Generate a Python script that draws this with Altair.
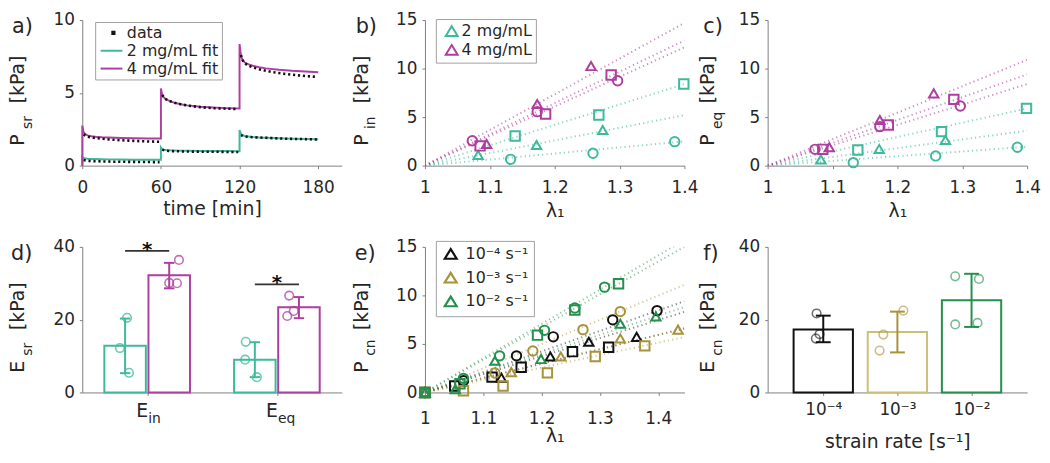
import json
import altair as alt
import pandas as pd

FONT = "DejaVu Sans"
TXT = "#262626"
AXC = "#808080"
TEAL = "#3fb99c"
MAG = "#ad3fa0"
BLK = "#111111"
OLV = "#a8923a"
OLV_LIGHT = "#cdbf78"
GRN = "#23904c"
W, H = 262, 147

# ---------------- panel a: stress relaxation ----------------
a_series = ["data", "2 mg/mL fit", "4 mg/mL fit"]
a_fit_time = [0, 0, 1, 2, 4, 7, 10, 15, 20, 30, 40, 50, 60,
              60, 61, 62, 64, 67, 70, 75, 80, 90, 100, 110, 120,
              120, 121, 122, 124, 127, 130, 135, 140, 150, 160, 170, 180]
a_fit_2 = [0, 0.62, 0.52, 0.50, 0.48, 0.46, 0.45, 0.44, 0.43, 0.42, 0.41, 0.40, 0.40,
           1.25, 1.12, 1.09, 1.07, 1.05, 1.04, 1.03, 1.02, 1.01, 1.00, 1.00, 0.99,
           2.45, 2.20, 2.10, 2.04, 2.00, 1.97, 1.94, 1.92, 1.88, 1.85, 1.83, 1.81]
a_fit_4 = [0, 2.75, 2.30, 2.18, 2.08, 2.02, 1.98, 1.95, 1.93, 1.90, 1.88, 1.87, 1.86,
           5.30, 4.85, 4.70, 4.55, 4.43, 4.33, 4.22, 4.14, 4.05, 3.99, 3.95, 3.92,
           8.35, 7.60, 7.30, 7.08, 6.95, 6.86, 6.76, 6.68, 6.58, 6.51, 6.46, 6.42]
a_data_time = [1, 3, 6, 10, 15, 20, 25, 30, 35, 40, 45, 50, 55, 59,
               61, 63, 66, 70, 75, 80, 85, 90, 95, 100, 105, 110, 115, 119,
               121, 123, 126, 130, 135, 140, 145, 150, 155, 160, 165, 170, 175, 179]
a_data_2 = [0.38, 0.34, 0.32, 0.30, 0.29, 0.28, 0.27, 0.27, 0.26, 0.26, 0.25, 0.25, 0.24, 0.24,
            1.10, 1.04, 1.01, 0.99, 0.98, 0.97, 0.96, 0.96, 0.95, 0.95, 0.95, 0.94, 0.94, 0.94,
            2.10, 2.02, 1.98, 1.95, 1.93, 1.91, 1.89, 1.87, 1.85, 1.84, 1.83, 1.82, 1.81, 1.80]
a_data_4 = [2.15, 2.02, 1.95, 1.90, 1.85, 1.80, 1.77, 1.74, 1.72, 1.70, 1.68, 1.66, 1.65, 1.64,
            4.85, 4.60, 4.45, 4.33, 4.22, 4.13, 4.07, 4.02, 3.98, 3.95, 3.93, 3.91, 3.90, 3.89,
            7.60, 7.10, 6.90, 6.75, 6.62, 6.52, 6.43, 6.36, 6.30, 6.25, 6.20, 6.16, 6.12, 6.10]

# ---------------- panels b, c: peak / equilibrium stress ----------------
conc_names = ["2 mg/mL", "4 mg/mL"]
sample_names = ["A", "B", "C"]
sample_shapes = ["triangle-up", "square", "circle"]
bc_conc = [0] * 9 + [1] * 9
bc_sample = [0, 0, 0, 1, 1, 1, 2, 2, 2] * 2
bc_lambda = [1.082, 1.172, 1.274, 1.139, 1.268, 1.399, 1.132, 1.259, 1.385,
             1.095, 1.173, 1.256, 1.085, 1.186, 1.287, 1.073, 1.173, 1.297]
b_P = [1.10, 2.13, 3.67, 3.06, 5.22, 8.41, 0.65, 1.27, 2.47,
       2.23, 6.35, 10.26, 2.03, 5.32, 9.34, 2.57, 5.56, 8.75]
c_P = [0.65, 1.72, 2.64, 1.61, 3.50, 5.90, 0.31, 1.00, 1.89,
       1.89, 4.70, 7.45, 1.68, 4.19, 6.83, 1.68, 4.02, 6.14]
fit_lambda = [1.0, 1.4]
b_fit_end = [[5.2, 8.4, 2.5], [14.7, 12.9, 12.2]]
c_fit_end = [[3.6, 5.9, 1.95], [10.9, 9.4, 8.4]]

# ---------------- panel d: moduli ----------------
d_sub = ["in", "eq"]
d_mean = [[12.8, 9.0], [32.2, 23.4]]
d_lo = [[5.3, 4.2], [28.6, 20.4]]
d_hi = [[20.3, 13.8], [35.6, 26.2]]
d_pts = [[[20.5, 12.2, 5.4], [13.9, 9.0, 4.2]], [[36.4, 30.1, 30.0], [26.6, 21.0, 22.4]]]
d_jit = [[[0.015, -0.04, 0.03], [-0.07, -0.075, 0.015]], [[0.075, 0.0, 0.06], [-0.075, -0.09, -0.04]]]
d_sig = [38.9, 29.7]

# ---------------- panel e: constant strain rate ----------------
e_rates = ["10⁻⁴ s⁻¹", "10⁻³ s⁻¹", "10⁻² s⁻¹"]
e_lambda = [
    [[1.0, 1.131, 1.215, 1.281, 1.363], [1.0, 1.051, 1.115, 1.165, 1.253, 1.315], [1.0, 1.066, 1.157, 1.220, 1.322, 1.398]],
    [[1.0, 1.148, 1.233, 1.335, 1.434], [1.0, 1.066, 1.134, 1.210, 1.292, 1.377], [1.0, 1.120, 1.185, 1.271, 1.335]],
    [[1.0, 1.052, 1.120, 1.199, 1.335, 1.396], [1.0, 1.060, 1.193, 1.257, 1.332], [1.0, 1.066, 1.128, 1.205, 1.257, 1.308]],
]
e_P = [
    [[0, 1.52, 3.70, 5.22, 5.73], [0, 0.67, 1.58, 2.60, 4.20, 4.65], [0, 1.20, 3.77, 5.73, 7.48, 8.43]],
    [[0, 2.09, 3.70, 5.56, 6.47], [0, 0.17, 0.67, 2.02, 3.70, 4.80], [0, 2.00, 4.28, 6.47, 8.33]],
    [[0, 0.34, 3.27, 3.44, 7.08, 7.82], [0, 0.90, 5.90, 8.50, 11.20], [0, 1.45, 3.77, 6.40, 8.70, 10.85]],
]
e_fit_lambda = [1.0, 1.445]
e_fit_end = [[8.3, 6.6, 9.4], [6.6, 5.7, 11.1], [8.8, 15.0, 15.7]]

# ---------------- panel f: modulus vs strain rate ----------------
f_rates = ["10⁻⁴", "10⁻³", "10⁻²"]
f_mean = [17.3, 16.6, 25.3]
f_lo = [13.8, 11.0, 18.0]
f_hi = [21.1, 22.2, 32.6]
f_pts = [[21.7, 16.0, 14.8], [22.5, 15.9, 11.5], [31.9, 31.2, 18.7, 19.1]]
f_jit = [[-0.09, -0.05, -0.10], [0.08, -0.19, -0.24], [-0.22, 0.10, -0.22, 0.08]]


# ---------------- helpers ----------------
def one(text):
    return alt.Chart(alt.Data(values=[{"t": text}]))


def panel_label(text, dx):
    return one(text).mark_text(align="left", baseline="alphabetic", fontSize=21, font=FONT, color=TXT).encode(
        x=alt.value(dx), y=alt.value(13), text="t:N")


def ytitle(main, sub, bx):
    m = one(main).mark_text(angle=270, align="left", baseline="alphabetic", fontSize=19, font=FONT, color=TXT).encode(
        x=alt.value(bx), y=alt.value(127), text="t:N")
    s = one(sub).mark_text(angle=270, align="left", baseline="alphabetic", fontSize=14, font=FONT, color=TXT).encode(
        x=alt.value(bx + 8), y=alt.value(110), text="t:N")
    r = one("[kPa]").mark_text(angle=270, align="left", baseline="alphabetic", fontSize=19, font=FONT, color=TXT).encode(
        x=alt.value(bx), y=alt.value(84), text="t:N")
    return [m, s, r]


def lam_axis(title_y, pad):
    return alt.Axis(values=[1, 1.1, 1.2, 1.3, 1.4], format="~g", title="λ₁", titleY=title_y,
                    titleBaseline="alphabetic", labelPadding=pad)


def y_axis(vals):
    return alt.Axis(values=vals, title=None, labelPadding=5)


def legend_layer(domain, colors, symbols, **kw):
    leg = alt.Legend(title=None, orient="none", labelFont=FONT, labelFontSize=16, labelColor=TXT,
                     strokeColor="#a0a0a0", fillColor="white", **kw)
    return alt.Chart(pd.DataFrame({"k": domain})).transform_filter("false").mark_point(
        filled=False, opacity=1).encode(
        color=alt.Color("k:N", scale=alt.Scale(domain=domain, range=colors), legend=leg),
        shape=alt.Shape("k:N", scale=alt.Scale(domain=domain, range=symbols), legend=leg))


# ---------------- panel a ----------------
n = len(a_fit_time)
fit_df = pd.DataFrame({"t": a_fit_time * 2, "P": a_fit_2 + a_fit_4,
                       "s": [a_series[1]] * n + [a_series[2]] * n, "o": list(range(n)) * 2})
dat_df = pd.DataFrame({"t": a_data_time * 2, "P": a_data_2 + a_data_4,
                       "k": [f"2-{t // 60}" for t in a_data_time] + [f"4-{t // 60}" for t in a_data_time]})
xa = alt.X("t:Q", scale=alt.Scale(domain=[0, 198], nice=False),
           axis=alt.Axis(values=[0, 60, 120, 180], title="time [min]", titleY=49,
                         titleBaseline="alphabetic", labelPadding=11))
ya = alt.Y("P:Q", scale=alt.Scale(domain=[0, 10], nice=False), axis=y_axis([0, 5, 10]))
fit2 = alt.Chart(fit_df).transform_filter(alt.datum.s == a_series[1]).mark_line(
    color=TEAL, strokeWidth=2).encode(x=xa, y=ya, order="o:Q")
fit4 = alt.Chart(fit_df).transform_filter(alt.datum.s == a_series[2]).mark_line(
    color=MAG, strokeWidth=2).encode(x=xa, y=ya, order="o:Q")
dots = alt.Chart(dat_df).mark_line(color=BLK, strokeWidth=2.6, strokeDash=[2.2, 2.8]).encode(
    x=xa, y=ya, detail="k:N")
a_legend = legend_layer(a_series, [BLK, TEAL, MAG],
                        ["M1.15,-0.2H1.55V0.2H1.15Z", "M-1,0H3", "M-1,0H3"],
                        legendX=13, legendY=2, padding=3, rowPadding=2, symbolSize=121,
                        symbolStrokeWidth=2, labelOffset=13)
pa = alt.layer(fit2, fit4, dots, a_legend, panel_label("a)", -71),
               *ytitle("P", "sr", -59)).properties(width=W, height=H)


# ---------------- panels b, c ----------------
def scatter_panel(P, fit_end, label, sub, bx, legend):
    df = pd.DataFrame({"lam": bc_lambda, "P": P,
                       "conc": [conc_names[i] for i in bc_conc],
                       "sample": [sample_names[i] for i in bc_sample]})
    rows = []
    for ci, cn in enumerate(conc_names):
        for si, sn in enumerate(sample_names):
            for lam, pv in zip(fit_lambda, [0.0, fit_end[ci][si]]):
                rows.append({"lam": lam, "P": pv, "conc": cn, "key": f"{cn}-{sn}"})
    fdf = pd.DataFrame(rows)
    x = alt.X("lam:Q", scale=alt.Scale(domain=[1, 1.4], nice=False, zero=False), axis=lam_axis(51, 11))
    y = alt.Y("P:Q", scale=alt.Scale(domain=[0, 15], nice=False), axis=y_axis([0, 5, 10, 15]))
    lines = alt.Chart(fdf).mark_line(strokeWidth=2, strokeDash=[1.2, 3.2], opacity=0.6, clip=True).encode(
        x=x, y=y, detail="key:N",
        stroke=alt.Stroke("conc:N", scale=alt.Scale(domain=conc_names, range=[TEAL, MAG]), legend=None))
    pts = alt.Chart(df).mark_point(filled=False, size=90, strokeWidth=2, opacity=1).encode(
        x=x, y=y,
        color=alt.Color("conc:N", scale=alt.Scale(domain=conc_names, range=[TEAL, MAG]), legend=None),
        shape=alt.Shape("sample:N", scale=alt.Scale(domain=sample_names, range=sample_shapes), legend=None))
    layers = [lines, pts]
    if legend:
        layers.append(legend_layer(conc_names, [TEAL, MAG], ["M0.8,-0.95L2,1L-0.4,1Z"] * 2,
                                   legendX=11, legendY=-1, padding=4, rowPadding=1, symbolSize=100,
                                   symbolStrokeWidth=2, labelOffset=6))
    return alt.layer(*layers, panel_label(label, -70 if bx < -56 else -65),
                     *ytitle("P", sub, bx)).resolve_scale(
        color="independent", shape="independent").properties(width=W, height=H)


pb = scatter_panel(b_P, b_fit_end, "b)", "in", -58, True)
pc = scatter_panel(c_P, c_fit_end, "c)", "eq", -54, False)

# ---------------- panel d ----------------
GROUP_OFF, BAR_HALF, CAP_D = 0.17, 0.16, 0.04
brows, prows, srows = [], [], []
for ci, cn in enumerate(conc_names):
    for mi in range(len(d_sub)):
        pos = mi + (GROUP_OFF if ci else -GROUP_OFF)
        brows.append({"conc": cn, "pos": pos, "x1": pos - BAR_HALF, "x2": pos + BAR_HALF,
                      "c1": pos - CAP_D, "c2": pos + CAP_D, "mean": d_mean[ci][mi], "zero": 0,
                      "lo": d_lo[ci][mi], "hi": d_hi[ci][mi]})
        for v, j in zip(d_pts[ci][mi], d_jit[ci][mi]):
            prows.append({"conc": cn, "px": pos + j, "v": v})
for mi, sv in enumerate(d_sig):
    srows.append({"i": mi, "a": mi - GROUP_OFF, "b": mi + GROUP_OFF, "y": sv, "star": "*"})
dbar = pd.DataFrame(brows)
dpts = pd.DataFrame(prows)
dsig = pd.DataFrame(srows)
dlab = pd.DataFrame({"i": list(range(len(d_sub))), "main": ["E"] * len(d_sub), "sub": d_sub})
dsc = alt.Scale(domain=conc_names, range=[TEAL, MAG])
xd = alt.X("x1:Q", scale=alt.Scale(domain=[-0.5, 1.5], nice=False, zero=False),
           axis=alt.Axis(values=[0, 1], labels=False, title=None))
yd = alt.Y("mean:Q", scale=alt.Scale(domain=[0, 40], nice=False), axis=y_axis([0, 20, 40]))
d_bars = alt.Chart(dbar).mark_rect(fill="white", strokeWidth=2).encode(
    x=xd, x2="x2:Q", y=yd, y2="zero:Q", stroke=alt.Stroke("conc:N", scale=dsc, legend=None))
d_err = alt.Chart(dbar).mark_rule(strokeWidth=2).encode(
    x="pos:Q", y="lo:Q", y2="hi:Q", color=alt.Color("conc:N", scale=dsc, legend=None))
d_cap1 = alt.Chart(dbar).mark_rule(strokeWidth=2).encode(
    x="c1:Q", x2="c2:Q", y="lo:Q", color=alt.Color("conc:N", scale=dsc, legend=None))
d_cap2 = alt.Chart(dbar).mark_rule(strokeWidth=2).encode(
    x="c1:Q", x2="c2:Q", y="hi:Q", color=alt.Color("conc:N", scale=dsc, legend=None))
d_pt = alt.Chart(dpts).mark_point(shape="circle", filled=False, size=75, strokeWidth=1.6, opacity=0.75).encode(
    x="px:Q", y="v:Q", color=alt.Color("conc:N", scale=dsc, legend=None))
d_sigl = alt.Chart(dsig).mark_rule(strokeWidth=1.6, color="#333333").encode(x="a:Q", x2="b:Q", y="y:Q")
d_star = alt.Chart(dsig).mark_text(fontSize=20, font=FONT, fontWeight="bold", color="#111111",
                                   baseline="alphabetic", dy=5).encode(x="i:Q", y="y:Q", text="star:N")
d_lab1 = alt.Chart(dlab).mark_text(fontSize=19, font=FONT, color=TXT, align="right", baseline="alphabetic",
                                   dx=1).encode(x="i:Q", y=alt.value(H + 25), text="main:N")
d_lab2 = alt.Chart(dlab).mark_text(fontSize=14, font=FONT, color=TXT, align="left", baseline="alphabetic",
                                   dx=1).encode(x="i:Q", y=alt.value(H + 31), text="sub:N")
pd_ = alt.layer(d_bars, d_err, d_cap1, d_cap2, d_pt, d_sigl, d_star, d_lab1, d_lab2,
                panel_label("d)", -72), *ytitle("E", "sr", -59)).properties(width=W, height=H)

# ---------------- panel e ----------------
erows, efit = [], []
for ri, rn in enumerate(e_rates):
    for si, sn in enumerate(sample_names):
        for lam, pv in zip(e_lambda[ri][si], e_P[ri][si]):
            erows.append({"lam": lam, "P": pv, "rate": rn, "sample": sn})
        for lam, pv in zip(e_fit_lambda, [0.0, e_fit_end[ri][si]]):
            efit.append({"lam": lam, "P": pv, "rate": rn, "key": f"{rn}-{sn}"})
edf = pd.DataFrame(erows)
efd = pd.DataFrame(efit)
esc = alt.Scale(domain=e_rates, range=[BLK, OLV, GRN])
xe = alt.X("lam:Q", scale=alt.Scale(domain=[1, 1.445], nice=False, zero=False), axis=lam_axis(50, 15))
ye = alt.Y("P:Q", scale=alt.Scale(domain=[0, 15], nice=False), axis=y_axis([0, 5, 10, 15]))
e_lines = alt.Chart(efd).mark_line(strokeWidth=2, strokeDash=[1.2, 3.2], opacity=0.5, clip=True).encode(
    x=xe, y=ye, detail="key:N", stroke=alt.Stroke("rate:N", scale=esc, legend=None))
e_pts = alt.Chart(edf).mark_point(filled=False, size=90, strokeWidth=2, opacity=1).encode(
    x=xe, y=ye, color=alt.Color("rate:N", scale=esc, legend=None),
    shape=alt.Shape("sample:N", scale=alt.Scale(domain=sample_names, range=sample_shapes), legend=None))
e_legend = legend_layer(e_rates, [BLK, OLV, GRN], ["M0.4,-0.95L1.6,1L-0.8,1Z"] * 3,
                        legendX=11, legendY=-6, padding=5, rowPadding=4, symbolSize=100,
                        symbolStrokeWidth=2.2, labelOffset=9)
pe = alt.layer(e_lines, e_pts, e_legend, panel_label("e)", -71), *ytitle("P", "cn", -58)).resolve_scale(
    color="independent", shape="independent").properties(width=W, height=H)

# ---------------- panel f ----------------
F_HALF, CAP_F = 0.4, 0.1
frows, fprows = [], []
for i, rn in enumerate(f_rates):
    frows.append({"rate": rn, "pos": i, "x1": i - F_HALF, "x2": i + F_HALF, "c1": i - CAP_F, "c2": i + CAP_F,
                  "mean": f_mean[i], "zero": 0, "lo": f_lo[i], "hi": f_hi[i]})
    for v, j in zip(f_pts[i], f_jit[i]):
        fprows.append({"rate": rn, "px": i + j, "v": v})
fbar = pd.DataFrame(frows)
fpts = pd.DataFrame(fprows)
f_bar_sc = alt.Scale(domain=f_rates, range=[BLK, OLV_LIGHT, GRN])
f_err_sc = alt.Scale(domain=f_rates, range=[BLK, OLV, GRN])
xf = alt.X("x1:Q", scale=alt.Scale(domain=[-0.75, 2.75], nice=False, zero=False),
           axis=alt.Axis(values=list(range(len(f_rates))),
                         labelExpr=json.dumps(f_rates, ensure_ascii=False) + "[datum.value]",
                         title="strain rate [s⁻¹]", titleY=56, titleBaseline="alphabetic", labelPadding=6))
yf = alt.Y("mean:Q", scale=alt.Scale(domain=[0, 40], nice=False), axis=y_axis([0, 20, 40]))
f_bars = alt.Chart(fbar).mark_rect(fill="white", strokeWidth=2).encode(
    x=xf, x2="x2:Q", y=yf, y2="zero:Q", stroke=alt.Stroke("rate:N", scale=f_bar_sc, legend=None))
f_err = alt.Chart(fbar).mark_rule(strokeWidth=2).encode(
    x="pos:Q", y="lo:Q", y2="hi:Q", color=alt.Color("rate:N", scale=f_err_sc, legend=None))
f_cap1 = alt.Chart(fbar).mark_rule(strokeWidth=2).encode(
    x="c1:Q", x2="c2:Q", y="lo:Q", color=alt.Color("rate:N", scale=f_err_sc, legend=None))
f_cap2 = alt.Chart(fbar).mark_rule(strokeWidth=2).encode(
    x="c1:Q", x2="c2:Q", y="hi:Q", color=alt.Color("rate:N", scale=f_err_sc, legend=None))
f_pt = alt.Chart(fpts).mark_point(shape="circle", filled=False, size=75, strokeWidth=1.6, opacity=0.6).encode(
    x="px:Q", y="v:Q", color=alt.Color("rate:N", scale=f_err_sc, legend=None))
pf = alt.layer(f_bars, f_err, f_cap1, f_cap2, f_pt, panel_label("f)", -65),
               *ytitle("E", "cn", -54)).properties(width=W, height=H)

# ---------------- assemble ----------------
chart = alt.concat(pa, pb, pc, pd_, pe, pf, columns=3, spacing={"row": 82, "column": 84},
                   bounds="flush").resolve_scale(
    x="independent", y="independent", color="independent", shape="independent", stroke="independent"
).resolve_legend(
    color="independent", shape="independent", stroke="independent"
).properties(
    padding={"left": 0, "top": 0, "right": 0, "bottom": 0}
).configure_axis(
    labelFont=FONT, labelFontSize=17, labelColor=TXT, titleFont=FONT, titleFontSize=19,
    titleFontWeight="normal", titleColor=TXT, domainColor=AXC, tickColor=AXC, tickSize=3,
    grid=False, labelFlush=False, labelOverlap=False
).configure_view(stroke="transparent")

chart.save("out.html", embed_options={"renderer": "svg", "actions": False})
